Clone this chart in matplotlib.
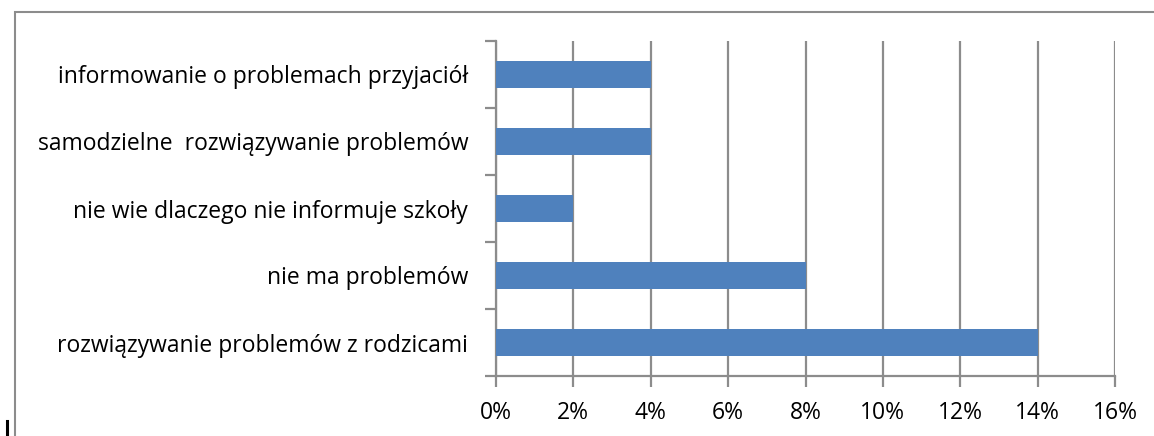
import matplotlib.pyplot as plt
from matplotlib.patches import Rectangle
from matplotlib.lines import Line2D
from matplotlib.ticker import FixedLocator

categories = [
    'rozwiązywanie problemów z rodzicami',
    'nie ma problemów',
    'nie wie dlaczego nie informuje szkoły',
    'samodzielne  rozwiązywanie problemów',
    'informowanie o problemach przyjaciół',
]
values = [14, 8, 2, 4, 4]
xticks = [0, 2, 4, 6, 8, 10, 12, 14, 16]

plt.rcParams['font.family'] = ['Open Sans', 'DejaVu Sans']
W, H = 1154, 436
fig = plt.figure(figsize=(W / 100, H / 100), dpi=100)

# outer frame of the chart area
fig.patches.append(Rectangle((14.5 / W, -0.05), 1.2, (H - 11.5) / H + 0.05,
                             transform=fig.transFigure, fill=False,
                             edgecolor='#8c8c8c', linewidth=1.5))
# small black stroke in the lower left corner
fig.lines.append(Line2D([6.5 / W, 6.5 / W], [0, 15 / H], transform=fig.transFigure,
                        color='black', linewidth=2.2))

ax = fig.add_axes([496 / W, (H - 376) / H, (1115 - 496) / W, (376 - 41) / H])
pos = range(len(categories))
ax.barh(pos, values, height=0.39, color='#4f81bd', zorder=3)

ax.set_xlim(0, 16)
ax.set_ylim(-0.5, len(categories) - 0.5)
ax.set_xticks(xticks)
ax.set_xticklabels([f'{v}%' for v in xticks])
ax.set_yticks(list(pos))
ax.set_yticklabels(categories)
ax.yaxis.set_minor_locator(FixedLocator([p - 0.5 for p in range(len(categories) + 1)]))

ax.grid(axis='x', color='#8c8c8c', linewidth=1.6, zorder=0)
for s in ['top', 'right']:
    ax.spines[s].set_visible(False)
for s in ['left', 'bottom']:
    ax.spines[s].set_color('#8c8c8c')
    ax.spines[s].set_linewidth(1.6)

ax.tick_params(axis='y', which='major', length=0, pad=20, labelsize=16.5)
ax.tick_params(axis='y', which='minor', length=8, width=1.6, color='#8c8c8c')
ax.tick_params(axis='x', length=8, width=1.6, color='#8c8c8c', pad=10, labelsize=16.5)

fig.savefig('out.png', dpi=100)
